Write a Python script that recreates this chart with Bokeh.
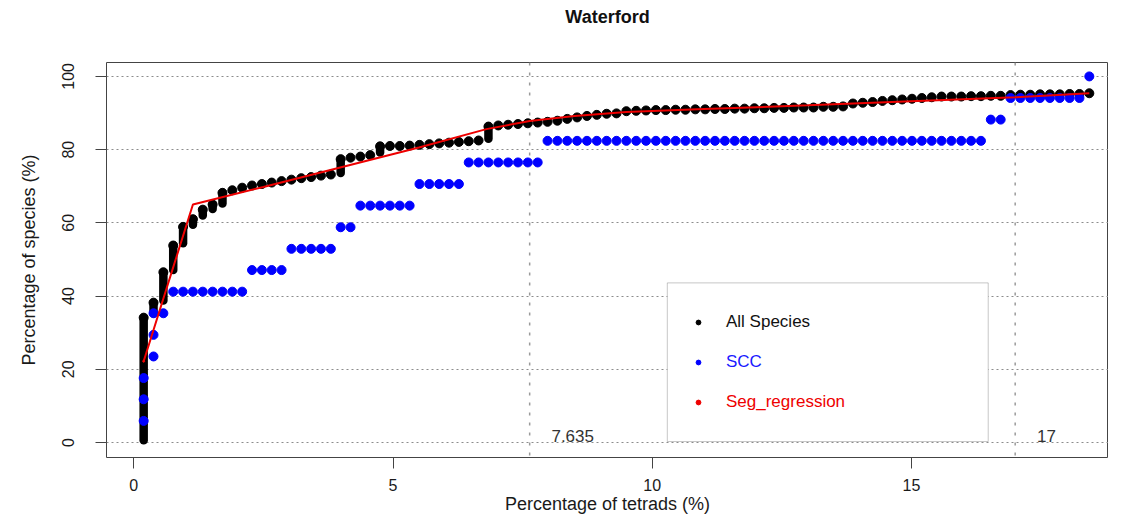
from bokeh.plotting import figure
from bokeh.models import (Range1d, FixedTicker, Legend, LegendItem, Span, Label,
                          BoxAnnotation, Title)
from bokeh.embed import file_html
from bokeh.resources import INLINE

# ------------------------------------------------------------------ data
# x grid: percentage of tetrads (one tetrad ~ 0.19 %)
grid_x = [0.19, 0.38, 0.57, 0.76, 0.95, 1.14, 1.33, 1.52, 1.71, 1.90,
          2.09, 2.28, 2.47, 2.66, 2.85, 3.04, 3.23, 3.42, 3.61, 3.80,
          3.99, 4.18, 4.37, 4.56, 4.75, 4.94, 5.13, 5.32, 5.51, 5.70,
          5.89, 6.08, 6.27, 6.46, 6.65, 6.84, 7.03, 7.22, 7.41, 7.60,
          7.79, 7.98, 8.17, 8.36, 8.55, 8.74, 8.93, 9.12, 9.31, 9.50,
          9.69, 9.88, 10.07, 10.26, 10.45, 10.64, 10.83, 11.02, 11.21, 11.40,
          11.59, 11.78, 11.97, 12.16, 12.35, 12.54, 12.73, 12.92, 13.11, 13.30,
          13.49, 13.68, 13.87, 14.06, 14.25, 14.44, 14.63, 14.82, 15.01, 15.20,
          15.39, 15.58, 15.77, 15.96, 16.15, 16.34, 16.53, 16.72, 16.91, 17.10,
          17.29, 17.48, 17.67, 17.86, 18.05, 18.24, 18.43]

# All species: cumulative percentage of species (top point of each column)
all_y = [34.1, 38.2, 46.5, 53.8, 58.9, 61.0, 63.6, 65.0, 68.2, 68.9,
         69.6, 70.2, 70.6, 71.0, 71.4, 71.8, 72.2, 72.5, 72.9, 73.2,
         77.4, 77.8, 78.1, 78.5, 80.9, 81.0, 81.0, 81.1, 81.3, 81.5,
         81.7, 81.9, 82.1, 82.3, 82.5, 86.3, 86.6, 86.8, 87.0, 87.2,
         87.4, 87.6, 87.9, 88.4, 88.8, 89.2, 89.5, 89.8, 89.9, 90.5,
         90.6, 90.7, 90.8, 90.8, 90.9, 90.9, 91.0, 91.0, 91.1, 91.1,
         91.2, 91.2, 91.3, 91.3, 91.4, 91.4, 91.5, 91.5, 91.5, 91.7,
         91.7, 91.8, 92.6, 92.8, 93.0, 93.3, 93.5, 93.7, 93.9, 94.1,
         94.3, 94.5, 94.5, 94.5, 94.6, 94.6, 94.7, 94.7, 94.9, 95.0,
         95.0, 95.1, 95.1, 95.1, 95.2, 95.2, 95.4]

# columns where many species share the same tetrad percentage (stacked points)
stack_x = [0.19, 0.38, 0.57, 0.76, 0.95, 1.14, 1.33, 1.52, 1.71, 3.99, 4.75, 6.84]
stack_low = [0.6, 35.3, 38.8, 47.1, 54.4, 59.5, 62.0, 63.8, 65.3, 73.6, 79.2, 83.0]
stack_high = [34.1, 38.2, 46.5, 53.8, 58.9, 61.0, 63.6, 65.0, 68.2, 77.4, 80.9, 86.3]

# SCC species
scc_x = [0.19, 0.19, 0.19, 0.38, 0.38, 0.38] + grid_x[2:]
scc_y = [5.9, 11.8, 17.6, 23.5, 29.4, 35.3,
         35.3,
         41.2, 41.2, 41.2, 41.2, 41.2, 41.2, 41.2, 41.2,
         47.1, 47.1, 47.1, 47.1,
         52.9, 52.9, 52.9, 52.9, 52.9,
         58.8, 58.8,
         64.7, 64.7, 64.7, 64.7, 64.7, 64.7,
         70.6, 70.6, 70.6, 70.6, 70.6,
         76.5, 76.5, 76.5, 76.5, 76.5, 76.5, 76.5, 76.5,
         82.4, 82.4, 82.4, 82.4, 82.4, 82.4, 82.4, 82.4, 82.4, 82.4,
         82.4, 82.4, 82.4, 82.4, 82.4, 82.4, 82.4, 82.4, 82.4, 82.4,
         82.4, 82.4, 82.4, 82.4, 82.4, 82.4, 82.4, 82.4, 82.4, 82.4,
         82.4, 82.4, 82.4, 82.4, 82.4, 82.4, 82.4, 82.4, 82.4, 82.4,
         82.4, 82.4, 82.4, 82.4, 82.4,
         88.2, 88.2,
         94.1, 94.1, 94.1, 94.1, 94.1, 94.1, 94.1, 94.1,
         100.0]

# segmented regression fit
seg_x = [0.19, 1.14, 2.5, 4.0, 5.5, 6.8, 7.635, 8.5, 9.5, 11.0, 13.0, 15.0, 17.0, 18.43]
seg_y = [22.2, 65.0, 69.8, 75.2, 80.6, 85.6, 87.8, 89.2, 90.3, 91.1, 92.1, 93.2, 94.3, 95.4]

breakpoints = [7.635, 17]
breakpoint_labels = ["7.635", "17"]
x_ticks = [0, 5, 10, 15]
y_ticks = [0, 20, 40, 60, 80, 100]

FONT = "Liberation Sans"

# ------------------------------------------------------------------ figure
p = figure(width=1108, height=516,
           x_range=Range1d(-0.527, 18.80), y_range=Range1d(-4.1, 103.8),
           output_backend="svg", toolbar_location=None,
           min_border_left=106, min_border_right=0,
           min_border_top=62, min_border_bottom=58,
           title="Waterford")
p.title.align = "center"
p.title.vertical_align = "middle"
p.title.standoff = 0
p.title.text_font = FONT
p.title.text_font_size = "18px"
p.title.text_font_style = "bold"
p.title.text_color = "#111111"
# empty spacer between the frame and the title
p.add_layout(Title(text=" ", text_font=FONT, text_font_size="18px", standoff=13), "above")

p.background_fill_color = "white"
p.border_fill_color = "white"
p.outline_line_color = "#444444"
p.outline_line_width = 1

p.xgrid.grid_line_color = None
p.ygrid.grid_line_color = "#8c8c8c"
p.ygrid.grid_line_dash = "2 3"
p.ygrid.grid_line_width = 1.2

p.xaxis.ticker = FixedTicker(ticks=x_ticks)
p.yaxis.ticker = FixedTicker(ticks=y_ticks)
p.xaxis.axis_label = "Percentage of tetrads (%)"
p.yaxis.axis_label = "Percentage of species (%)"
for ax in (p.xaxis, p.yaxis):
    ax.axis_line_color = None
    ax.major_tick_out = 11
    ax.major_tick_in = 0
    ax.minor_tick_line_color = None
    ax.major_tick_line_color = "#444444"
    ax.major_label_text_font = FONT
    ax.major_label_text_font_size = "16px"
    ax.major_label_text_color = "#1a1a1a"
    ax.axis_label_text_font = FONT
    ax.axis_label_text_font_size = "18px"
    ax.axis_label_text_font_style = "normal"
    ax.axis_label_text_color = "#1a1a1a"
p.yaxis.major_label_orientation = "vertical"
p.xaxis.major_label_standoff = 10
p.xaxis.axis_label_standoff = 0
p.yaxis.major_label_standoff = 21
p.yaxis.axis_label_standoff = 21

# breakpoint lines
for b in breakpoints:
    p.add_layout(Span(location=b, dimension="height", line_color="#9a9a9a",
                      line_dash="3 7", line_width=1.5, level="underlay"))

# data
p.segment(x0=stack_x, y0=stack_low, x1=stack_x, y1=stack_high,
          line_color="black", line_width=8.5, line_cap="round")
r_all = p.scatter(grid_x, all_y, size=9, color="black")
r_scc = p.scatter(scc_x, scc_y, size=9, color="#0000ff")
p.line(seg_x, seg_y, line_color="#ee0000", line_width=2)
r_seg_key = p.scatter(seg_x[:1], seg_y[:1], size=2, color="#ee0000")

# breakpoint labels
for b, t in zip(breakpoints, breakpoint_labels):
    p.add_layout(Label(x=b + 0.42, y=1.9, text=t, text_align="left",
                       text_baseline="middle", text_font=FONT,
                       text_font_size="17px", text_color="#333333"))

# legend box
p.add_layout(BoxAnnotation(left=10.29, right=16.48, bottom=0.27, top=43.6,
                           fill_color="white", fill_alpha=1.0,
                           line_color="#444444", line_width=1))

for r, text, col, vy in [(r_all, "All Species", "#111111", 122),
                         (r_scc, "SCC", "#1a1aff", 82),
                         (r_seg_key, "Seg_regression", "#ee0000", 42)]:
    leg = Legend(items=[LegendItem(label=text, renderers=[r])],
                 location=(586, vy), orientation="vertical",
                 background_fill_alpha=0, border_line_color=None,
                 padding=0, margin=0, spacing=0,
                 glyph_width=12, glyph_height=26, label_height=26,
                 label_standoff=22, label_text_color=col,
                 label_text_font=FONT, label_text_font_size="17px")
    p.add_layout(leg)

open("out.html", "w").write(file_html(p, INLINE))
